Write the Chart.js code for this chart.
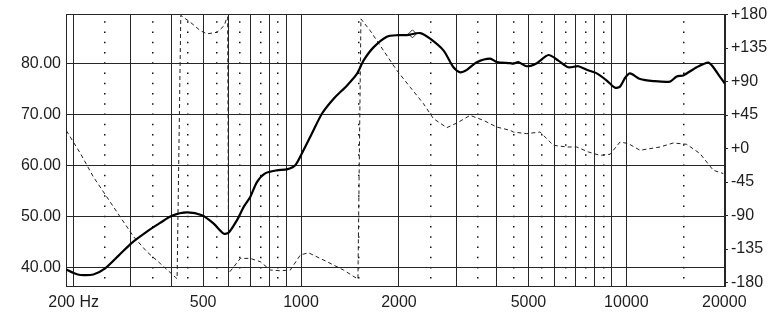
<!DOCTYPE html>
<html>
<head>
<meta charset="utf-8">
<script src="https://cdn.jsdelivr.net/npm/chart.js@4.4.1/dist/chart.umd.min.js"></script>
<style>
  html, body { margin: 0; padding: 0; background: #ffffff; }
  #wrap { width: 780px; height: 336px; }
</style>
</head>
<body>
<div id="wrap"><canvas id="c" width="780" height="336"></canvas></div>
<script>
// ---- Data ----
const magFreq = [190, 200, 210, 230, 250, 275, 302, 336, 369, 401, 446, 496, 538, 578, 599, 635, 666, 698, 732, 776, 843, 905, 960, 1006, 1080, 1159, 1258, 1383, 1485, 1556, 1670, 1836, 1993, 2115, 2324, 2494, 2740, 2941, 3084, 3234, 3470, 3812, 3997, 4392, 4495, 4657, 4942, 5306, 5760, 6181, 6634, 7120, 7556, 8110, 8704, 9230, 9562, 9906, 10264, 11016, 12104, 13620, 14282, 14964, 16452, 17860, 18504, 19400, 20100];
const magDb   = [39.6, 38.9, 38.5, 38.6, 39.8, 42.3, 44.8, 47.0, 48.7, 50.1, 50.75, 50.2, 48.6, 46.6, 46.8, 49.2, 51.8, 53.8, 56.7, 58.4, 59.0, 59.2, 60.0, 62.3, 66.2, 70.1, 73.0, 75.6, 77.9, 80.5, 83.1, 85.2, 85.5, 85.5, 85.9, 84.8, 82.5, 79.2, 78.2, 78.7, 80.2, 80.9, 80.2, 80.0, 79.9, 80.2, 79.4, 80.0, 81.6, 80.5, 79.2, 79.4, 78.7, 78.0, 76.6, 75.2, 75.4, 77.1, 78.0, 76.9, 76.5, 76.4, 77.4, 77.6, 79.2, 80.1, 79.2, 77.3, 76.0];

const phaseFreq = [190, 210, 230, 253, 278, 306, 336, 369, 411, 416, 427, 457, 490, 514, 552, 581, 592, 595, 599, 651, 698, 749, 804, 863, 927, 995, 1054, 1201, 1350, 1496, 1528, 1631, 1793, 1971, 2165, 2379, 2553, 2807, 3013, 3310, 3636, 3997, 4392, 4495, 4942, 5430, 5966, 6560, 7040, 7643, 8302, 8912, 9562, 10142, 11016, 12690, 13941, 15330, 16842, 18504, 19859];
const phaseDeg  = [24, -6.8, -38.1, -65, -91.8, -118.6, -138.7, -154.3, -173, -175, 179, 169.7, 158.5, 154.1, 156.3, 165.3, 176.4, 177, -167.7, -147.6, -147.6, -152, -163.2, -164.2, -163.2, -143.1, -140, -152, -163.2, -175.5, 174.2, 158.5, 131.7, 104.9, 82.5, 60.3, 40.2, 28.1, 34.3, 44.6, 37.9, 28.9, 24.5, 22.2, 20, 22.2, 4.4, 2.1, 2.1, -4.6, -9.1, -7.7, 8.8, 6.6, -2.3, 2.1, 7.5, 5.7, -6.8, -29.2, -33.6];

const markerFreq = [2200];
const markerDb   = [85.75];

const majorFreqTicks = [200, 300, 400, 500, 600, 700, 800, 900, 1000, 2000, 3000, 4000, 5000, 6000, 7000, 8000, 9000, 10000, 20000];
const minorFreqTicks = [250, 350, 450, 550, 650, 750, 850, 1500, 2500, 3500, 4500, 5500, 6500, 7500, 8500, 15000];
const labelFreqTicks = [200, 500, 1000, 2000, 5000, 10000, 20000];
const dbTicks = [40, 50, 60, 70, 80];
const phaseTicks = [-180, -135, -90, -45, 0, 45, 90, 135, 180];

// ---- Build ----
const toPts = (xs, ys) => xs.map((x, i) => ({ x: x, y: ys[i] }));
const FONT = { family: "'Liberation Sans', Arial, sans-serif", size: 16 };
const TXT = '#1e1e1e';
const GRID = '#262626';
const minorSet = new Set(minorFreqTicks);
const labelSet = new Set(labelFreqTicks);

new Chart(document.getElementById('c'), {
  type: 'line',
  data: {
    datasets: [
      {
        label: 'SPL',
        data: toPts(magFreq, magDb),
        yAxisID: 'y',
        borderColor: '#000000',
        borderWidth: 2.2,
        pointRadius: 0,
        tension: 0.25,
        fill: false
      },
      {
        label: 'Phase',
        data: toPts(phaseFreq, phaseDeg),
        yAxisID: 'y1',
        borderColor: '#222222',
        borderWidth: 1,
        borderDash: [4, 3],
        pointRadius: 0,
        tension: 0,
        fill: false
      },
      {
        label: 'marker',
        data: toPts(markerFreq, markerDb),
        yAxisID: 'y',
        showLine: false,
        pointStyle: 'rectRot',
        pointRadius: 4,
        pointBackgroundColor: '#ffffff',
        pointBorderColor: '#333333',
        pointBorderWidth: 1
      }
    ]
  },
  options: {
    responsive: false,
    devicePixelRatio: 1,
    animation: false,
    layout: { padding: { top: 14, left: 0, right: 0, bottom: 0 } },
    plugins: { legend: { display: false }, tooltip: { enabled: false } },
    scales: {
      x: {
        type: 'logarithmic',
        position: 'bottom',
        min: 189.5,
        max: 20100,
        afterBuildTicks: (s) => {
          s.ticks = majorFreqTicks.concat(minorFreqTicks).sort((a, b) => a - b).map(v => ({ value: v }));
        },
        afterFit: (s) => { s.height = 50; },
        ticks: {
          autoSkip: false,
          maxRotation: 0,
          minRotation: 0,
          padding: 7,
          color: TXT,
          font: FONT,
          callback: (v) => labelSet.has(v) ? (v === 200 ? '200 Hz' : String(v)) : ''
        },
        grid: {
          drawTicks: false,
          color: (ctx) => (ctx.tick && minorSet.has(ctx.tick.value)) ? '#111111' : GRID,
          lineWidth: (ctx) => (ctx.tick && minorSet.has(ctx.tick.value)) ? 1.5 : 1
        },
        border: {
          display: true,
          color: GRID,
          width: 1,
          dash: (ctx) => (ctx.tick && minorSet.has(ctx.tick.value)) ? [1.5, 8.73] : [],
          dashOffset: 3.46
        }
      },
      y: {
        type: 'linear',
        position: 'left',
        min: 36.34,
        max: 89.52,
        afterBuildTicks: (s) => { s.ticks = dbTicks.map(v => ({ value: v })); },
        afterFit: (s) => { s.width = 66; },
        ticks: {
          padding: 5,
          color: TXT,
          font: FONT,
          callback: (v) => Number(v).toFixed(2)
        },
        grid: { drawTicks: false, color: GRID, lineWidth: 1 },
        border: { display: true, color: GRID, width: 1 }
      },
      y1: {
        type: 'linear',
        position: 'right',
        min: -184.7,
        max: 180,
        afterBuildTicks: (s) => { s.ticks = phaseTicks.map(v => ({ value: v })); },
        afterFit: (s) => { s.width = 55; },
        ticks: {
          padding: 3,
          color: TXT,
          font: FONT,
          callback: (v) => (v > 0 ? '+' + v : (v === 0 ? '+0' : String(v)))
        },
        grid: {
          drawTicks: true,
          tickLength: 3,
          tickColor: GRID,
          color: (ctx) => (ctx.tick && ctx.tick.value === 180) ? GRID : 'rgba(0,0,0,0)',
          lineWidth: 1
        },
        border: { display: true, color: GRID, width: 1 }
      }
    }
  }
});
</script>
</body>
</html>
